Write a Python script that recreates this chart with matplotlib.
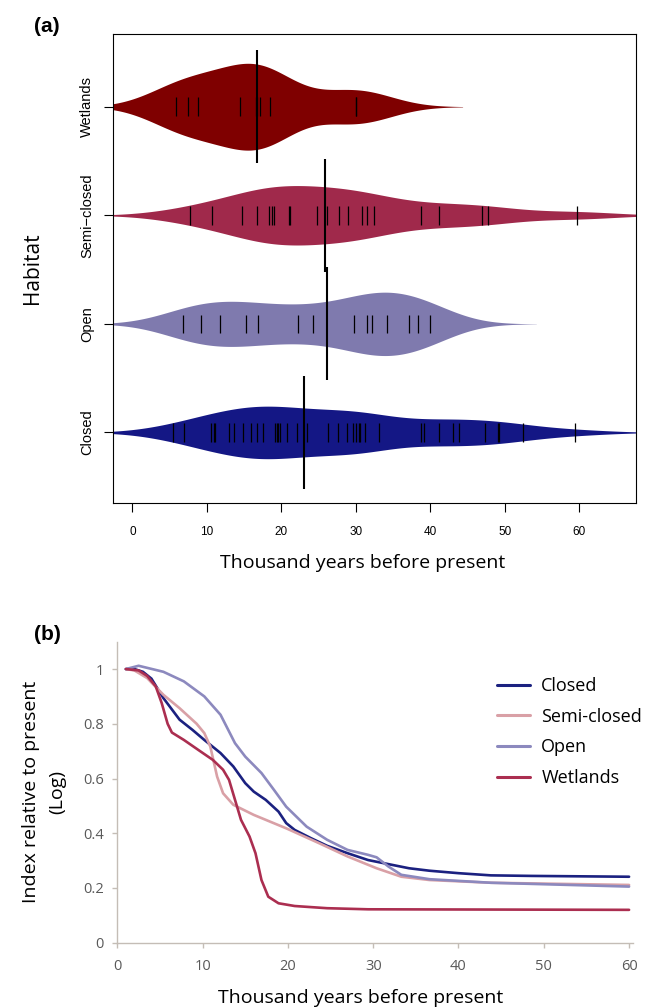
import numpy as np
import matplotlib.pyplot as plt

# ---- panel (a): dated records per habitat (thousand years BP) ----
habitats = ['Closed', 'Open', 'Semi\u2212closed', 'Wetlands']
closed_kyr = [5.5, 6.9, 10.6, 10.9, 11.1, 13.0, 13.6, 14.9, 15.9, 16.7, 17.5,
              19.2, 19.4, 19.5, 19.8, 20.8, 22.1, 23.4, 26.3, 27.6, 28.8, 29.6,
              30.1, 30.4, 30.6, 31.3, 33.1, 38.7, 39.1, 41.2, 43.1, 43.8, 47.4,
              49.1, 49.2, 52.4, 59.5]
open_kyr = [6.8, 9.2, 11.8, 15.2, 16.9, 22.3, 24.2, 29.7, 31.5, 32.2, 34.2,
            37.1, 38.4, 40.0]
semi_kyr = [7.7, 10.7, 14.7, 16.8, 18.3, 18.8, 19.0, 21.0, 21.2, 24.8, 26.1,
            27.7, 28.9, 30.9, 31.5, 32.5, 38.8, 41.2, 46.9, 47.8, 59.7]
wet_kyr = [5.8, 7.5, 8.8, 14.5, 16.6, 16.8, 17.2, 18.5, 30.1, 30.1]
centre_kyr = [23.0, 26.2, 25.9, 16.7]
bandwidth = [5.2, 4.75, 5.5, 4.75]
bean_cols = ['#141785', '#7f7aae', '#a0294b', '#7f0000']
x_ticks_a = [0, 10, 20, 30, 40, 50, 60]

# ---- panel (b): index relative to present ----
closed_x = [1, 2, 3, 4, 5.4, 7.3, 8.8, 10.2, 12.1, 13.6, 15.0, 16.0, 17.4, 18.9,
            19.8, 20.8, 22.7, 24.6, 27.0, 29.4, 31.8, 34.2, 36.6, 40, 43.8, 48.6, 60]
closed_y = [1.0, 1.0, 0.99, 0.965, 0.894, 0.815, 0.778, 0.741, 0.693, 0.644, 0.583,
            0.552, 0.522, 0.479, 0.437, 0.412, 0.382, 0.354, 0.327, 0.302, 0.287,
            0.272, 0.263, 0.254, 0.246, 0.244, 0.241]
semi_x = [1, 2, 3.5, 5.4, 7.3, 9.3, 10.2, 10.9, 11.7, 12.4, 13.6, 16.0, 19.8,
          23.7, 27.0, 30.4, 33.3, 36.6, 43.8, 60]
semi_y = [1.0, 0.995, 0.967, 0.906, 0.857, 0.80, 0.766, 0.717, 0.607, 0.546, 0.504,
          0.467, 0.418, 0.363, 0.315, 0.272, 0.241, 0.229, 0.219, 0.211]
open_x = [1, 2.5, 5.4, 7.8, 10.2, 12.1, 13.8, 15.0, 16.9, 18.4, 19.8, 22.2, 24.6,
          27.0, 29.4, 30.4, 31.8, 33.3, 36.6, 43.8, 60]
open_y = [1.0, 1.012, 0.99, 0.955, 0.90, 0.833, 0.729, 0.68, 0.62, 0.557, 0.497,
          0.424, 0.376, 0.339, 0.321, 0.312, 0.278, 0.248, 0.232, 0.219, 0.205]
wet_x = [1, 2.5, 3.5, 4.5, 5.2, 5.9, 6.4, 7.8, 9.75, 11.2, 12.4, 13.1, 13.8, 14.5,
         15.5, 16.2, 16.9, 17.7, 18.9, 20.8, 24.6, 29.4, 60]
wet_y = [1.0, 0.995, 0.975, 0.937, 0.876, 0.80, 0.768, 0.741, 0.699, 0.668, 0.632,
         0.595, 0.522, 0.449, 0.388, 0.327, 0.229, 0.168, 0.144, 0.134, 0.126,
         0.122, 0.12]
line_names = ['Closed', 'Semi-closed', 'Open', 'Wetlands']
line_cols = ['#1b2180', '#d9a0a6', '#8c89be', '#ab2e50']

fig = plt.figure(figsize=(6.46, 10.08), dpi=100)

# ================= (a) bean plot =================
axa = fig.add_axes([0.1749, 0.501, 0.8092, 0.4653])
samples = [closed_kyr, open_kyr, semi_kyr, wet_kyr]
dens = []
for obs, bw in zip(samples, bandwidth):
    obs = np.asarray(obs)
    grid = np.linspace(obs.min() - 3 * bw, obs.max() + 3 * bw, 600)
    d = np.exp(-0.5 * ((grid[:, None] - obs) / bw) ** 2).sum(1)
    d /= len(obs) * bw * np.sqrt(2 * np.pi)
    dens.append((grid, d))
scale = 0.4 / max(d.max() for g, d in dens)

for i, (obs, (grid, d)) in enumerate(zip(samples, dens)):
    pos = i + 1
    axa.fill_between(grid, pos - d * scale, pos + d * scale, color=bean_cols[i],
                     lw=0, zorder=1)
    axa.vlines(obs, pos - 0.085, pos + 0.085, color='k', lw=0.9, zorder=2)
    axa.vlines(centre_kyr[i], pos - 0.52, pos + 0.52, color='k', lw=1.5, zorder=3)

axa.set_xlim(-2.6, 67.6)
axa.set_ylim(0.35, 4.67)
axa.set_xticks(x_ticks_a)
axa.set_yticks(range(1, 5))
axa.set_yticklabels(habitats, rotation=90, va='center')
axa.tick_params(axis='x', length=6.5, width=0.8, pad=10, labelsize=8.5)
axa.tick_params(axis='y', length=6.5, width=0.8, pad=7, labelsize=10.5)
for lab in axa.get_xticklabels() + axa.get_yticklabels():
    lab.set_family('Liberation Sans')
for s in axa.spines.values():
    s.set_linewidth(0.8)
axa.set_xlabel('Thousand years before present', family='Open Sans', fontsize=14)
axa.xaxis.set_label_coords(0.477, -0.109)
axa.set_ylabel('Habitat', family='Open Sans', fontsize=15, labelpad=27)
fig.text(47 / 646, 1 - 27 / 1008, '(a)', fontsize=15, fontweight='bold',
         ha='center', va='center', family='Liberation Sans')

# ================= (b) index curves =================
axb = fig.add_axes([0.1816, 0.0648, 0.7988, 0.2986])
curves = [(closed_x, closed_y), (semi_x, semi_y), (open_x, open_y), (wet_x, wet_y)]
for (xs, ys), name, c in zip(curves, line_names, line_cols):
    axb.plot(xs, ys, color=c, lw=1.9, label=name, solid_joinstyle='round',
             solid_capstyle='round')

axb.set_xlim(0, 60.5)
axb.set_ylim(0, 1.1)
axb.set_xticks(range(0, 61, 10))
axb.set_yticks([0, 0.2, 0.4, 0.6, 0.8, 1])
axb.set_yticklabels(['0', '0.2', '0.4', '0.6', '0.8', '1'])
for side in ['top', 'right']:
    axb.spines[side].set_visible(False)
for side in ['left', 'bottom']:
    axb.spines[side].set_color('#c4bdb6')
    axb.spines[side].set_linewidth(1.0)
axb.tick_params(colors='#c4bdb6', labelcolor='#595959', length=3.5, width=1.0,
                labelsize=10.5)
axb.tick_params(axis='x', pad=8)
axb.tick_params(axis='y', pad=6)
for lab in axb.get_xticklabels() + axb.get_yticklabels():
    lab.set_family('Open Sans')
axb.set_xlabel('Thousand years before present', family='Open Sans', fontsize=14)
axb.xaxis.set_label_coords(0.4717, -0.155)
axb.set_ylabel('Index relative to present\n(Log)', family='Open Sans',
               fontsize=14, labelpad=12, linespacing=1.6)
leg = axb.legend(loc='upper left', bbox_to_anchor=(497 / 646, 1 - 677 / 1008),
                 bbox_transform=fig.transFigure, frameon=False, borderpad=0,
                 borderaxespad=0, handlelength=1.85, handletextpad=0.6,
                 labelspacing=0.7, prop={'family': 'Open Sans', 'size': 13})
for h in leg.get_lines():
    h.set_linewidth(2.2)
fig.text(47 / 646, 1 - 634 / 1008, '(b)', fontsize=15, fontweight='bold',
         ha='center', va='center', family='Liberation Sans')

fig.savefig('out.png', dpi=100)
